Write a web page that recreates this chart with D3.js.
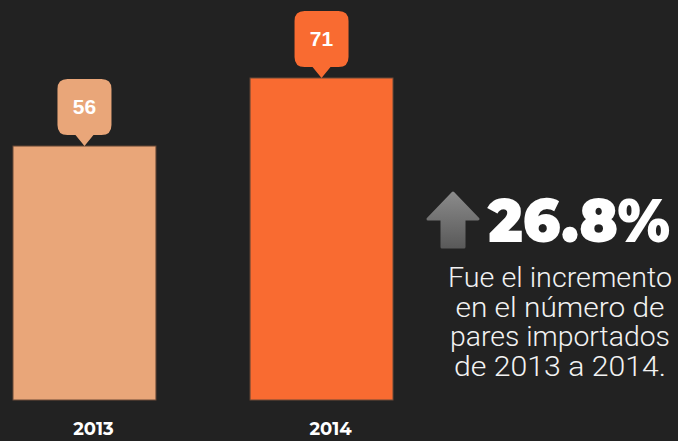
<!DOCTYPE html>
<html>
<head>
<meta charset="utf-8">
<script src="https://cdn.jsdelivr.net/npm/d3@7"></script>
<style>
  html, body { margin: 0; padding: 0; background: #222222; overflow: hidden; }
  svg { display: block; }
</style>
</head>
<body>
<div id="chart"></div>
<script>
// data
const years = ['2013', '2014'];
const pairs = [56, 71];
const barColors = ['#E9A679', '#F96B31'];
const increaseLabel = '26.8%';
const noteLines = ['Fue el incremento', 'en el número de', 'pares importados', 'de 2013 a 2014.'];

const width = 678, height = 441;
const baseline = 400;

const svg = d3.select('#chart').append('svg')
    .attr('width', width)
    .attr('height', height);

svg.append('rect').attr('width', width).attr('height', height).attr('fill', '#222222');

const x = d3.scaleBand()
    .domain(years)
    .range([13, 393])
    .paddingInner(0.397)
    .paddingOuter(0);

const y = d3.scaleLinear()
    .domain([0, 71])
    .range([baseline, 78]);

const bars = svg.append('g').selectAll('g')
    .data(years.map((yr, i) => ({ year: yr, value: pairs[i], color: barColors[i] })))
    .join('g');

bars.append('rect')
    .attr('x', d => x(d.year))
    .attr('y', d => y(d.value))
    .attr('width', x.bandwidth())
    .attr('height', d => baseline - y(d.value))
    .attr('fill', d => d.color)
    .attr('stroke', '#6b4a38')
    .attr('stroke-width', 1);

// callout bubble with pointer
function bubble(cx, tipY) {
    const w = 54, h = 56, r = 10, top = tipY - 67;
    const l = cx - w / 2, rt = cx + w / 2, b = top + h;
    return `M${l + r},${top} H${rt - r} Q${rt},${top} ${rt},${top + r} V${b - r} Q${rt},${b} ${rt - r},${b}
        H${cx + 9} L${cx},${tipY} L${cx - 9},${b} H${l + r} Q${l},${b} ${l},${b - r} V${top + r} Q${l},${top} ${l + r},${top} Z`;
}

bars.append('path')
    .attr('d', d => bubble(x(d.year) + x.bandwidth() / 2, y(d.value)))
    .attr('fill', d => d.color);

bars.append('text')
    .attr('x', d => x(d.year) + x.bandwidth() / 2)
    .attr('y', d => y(d.value) - 32)
    .attr('text-anchor', 'middle')
    .attr('fill', '#ffffff')
    .attr('font-family', 'Liberation Sans, Arial, sans-serif')
    .attr('font-weight', 'bold')
    .attr('font-size', 21)
    .text(d => d.value);

bars.append('text')
    .attr('x', d => x(d.year) + x.bandwidth() / 2 + 9)
    .attr('y', 435)
    .attr('text-anchor', 'middle')
    .attr('fill', '#ffffff')
    .attr('font-family', 'Montserrat, Lato, sans-serif')
    .attr('font-weight', 700)
    .attr('font-size', 18)
    .text(d => d.year);

// increase callout
const side = svg.append('g');

const arrowGrad = svg.append('defs').append('linearGradient')
    .attr('id', 'arrowGrad').attr('x1', 0).attr('y1', 0).attr('x2', 0).attr('y2', 1);
arrowGrad.append('stop').attr('offset', '0%').attr('stop-color', '#8a8a8a');
arrowGrad.append('stop').attr('offset', '100%').attr('stop-color', '#5a5a5a');

side.append('path')
    .attr('d', 'M453,193 L478,219 L464,219 L464,247 L442,247 L442,219 L428,219 Z')
    .attr('fill', 'url(#arrowGrad)')
    .attr('stroke', 'url(#arrowGrad)')
    .attr('stroke-width', 3)
    .attr('stroke-linejoin', 'round');

side.append('text')
    .attr('x', 488)
    .attr('y', 242)
    .attr('fill', '#ffffff')
    .attr('font-family', 'Montserrat, Lato, sans-serif')
    .attr('font-weight', 900)
    .attr('font-size', 60)
    .attr('textLength', 182)
    .attr('lengthAdjust', 'spacingAndGlyphs')
    .text(increaseLabel);

const lineWidths = [224, 209, 220, 212];
side.selectAll('text.note')
    .data(noteLines)
    .join('text')
    .attr('class', 'note')
    .attr('x', 560)
    .attr('y', (d, i) => 287 + i * 29.5)
    .attr('text-anchor', 'middle')
    .attr('fill', '#f2f2f2')
    .attr('font-family', 'Roboto, sans-serif')
    .attr('font-weight', 300)
    .attr('font-size', 27)
    .attr('textLength', (d, i) => lineWidths[i])
    .attr('lengthAdjust', 'spacingAndGlyphs')
    .text(d => d);
</script>
</body>
</html>
